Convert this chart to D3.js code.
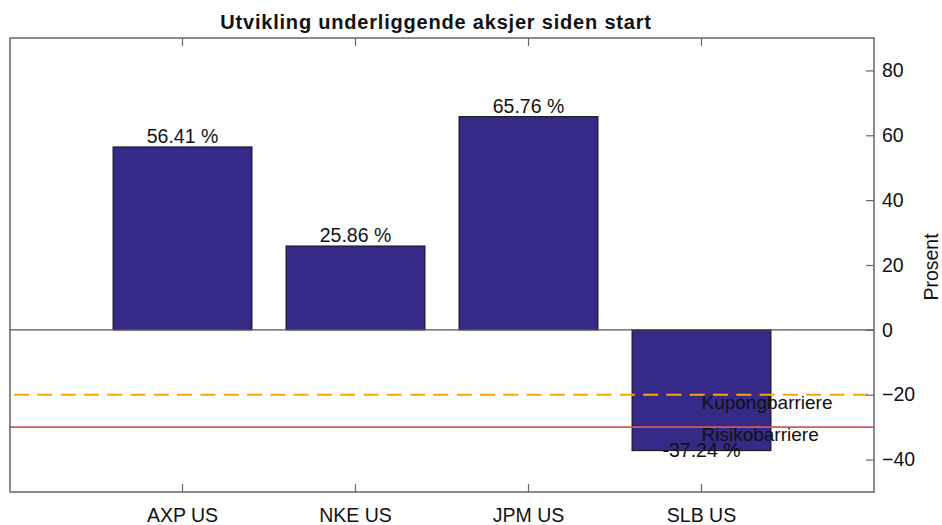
<!DOCTYPE html>
<html>
<head>
<meta charset="utf-8">
<script src="https://d3js.org/d3.v7.min.js"></script>
<style>
  body { margin: 0; background: #fff; }
  svg text { font-family: "Liberation Sans", Arial, sans-serif; fill: #111; }
</style>
</head>
<body>
<svg id="chart" width="942" height="525"></svg>
<script>
// data
const categories = ["AXP US", "NKE US", "JPM US", "SLB US"];
const values = [56.41, 25.86, 65.76, -37.24];
const yTicks = [-40, -20, 0, 20, 40, 60, 80];
const barriers = [
  { name: "Kupongbarriere", value: -20 },
  { name: "Risikobarriere", value: -30 }
];

const svg = d3.select("#chart");
const pLeft = 10, pRight = 874, pTop = 38, pBottom = 492;

const x = d3.scaleBand()
  .domain(categories)
  .range([96, 788])
  .paddingInner(0.197)
  .paddingOuter(0.0985);
const xc = d => x(d) + x.bandwidth() / 2;

const y = d3.scaleLinear().domain([-50, 90]).range([pBottom, pTop]);

// bars
svg.append("g").selectAll("rect")
  .data(categories)
  .enter().append("rect")
  .attr("x", d => x(d))
  .attr("width", x.bandwidth())
  .attr("y", (d, i) => y(Math.max(0, values[i])))
  .attr("height", (d, i) => Math.abs(y(values[i]) - y(0)))
  .attr("fill", "#352a87")
  .attr("stroke", "#111")
  .attr("stroke-width", 1);

// zero line
svg.append("line")
  .attr("x1", pLeft).attr("x2", pRight)
  .attr("y1", y(0)).attr("y2", y(0))
  .attr("stroke", "#555").attr("stroke-width", 1.3);

// barrier lines
svg.append("line")
  .attr("x1", pLeft).attr("x2", pRight)
  .attr("y1", y(-20)).attr("y2", y(-20))
  .attr("stroke", "#ffa500").attr("stroke-width", 2)
  .attr("stroke-dasharray", "15,8.3")
  .attr("stroke-dashoffset", -4);

svg.append("line")
  .attr("x1", pLeft).attr("x2", pRight)
  .attr("y1", y(-30)).attr("y2", y(-30))
  .attr("stroke", "#d05a5a").attr("stroke-width", 1.6);

// value labels
svg.append("g").selectAll("text")
  .data(categories)
  .enter().append("text")
  .attr("x", d => xc(d))
  .attr("y", (d, i) => values[i] >= 0 ? y(values[i]) - 4 : y(values[i]) + 6)
  .attr("text-anchor", "middle")
  .style("font-size", "19.5px")
  .text((d, i) => values[i].toFixed(2) + " %");

// barrier labels
svg.append("g").selectAll("text")
  .data(barriers)
  .enter().append("text")
  .attr("x", xc("SLB US"))
  .attr("y", d => y(d.value) + 14)
  .style("font-size", "19px")
  .text(d => d.name);

// frame
svg.append("rect")
  .attr("x", pLeft).attr("y", pTop)
  .attr("width", pRight - pLeft).attr("height", pBottom - pTop)
  .attr("fill", "none").attr("stroke", "#666").attr("stroke-width", 1.5);

// x ticks (inside, top and bottom)
const xTickG = svg.append("g");
categories.forEach(c => {
  xTickG.append("line").attr("x1", xc(c)).attr("x2", xc(c))
    .attr("y1", pBottom).attr("y2", pBottom - 8).attr("stroke", "#666").attr("stroke-width", 1.2);
  xTickG.append("line").attr("x1", xc(c)).attr("x2", xc(c))
    .attr("y1", pTop).attr("y2", pTop + 8).attr("stroke", "#666").attr("stroke-width", 1.2);
  xTickG.append("text").attr("x", xc(c)).attr("y", 522)
    .attr("text-anchor", "middle").style("font-size", "19.5px").text(c);
});

// y axis on the right
const yAxis = d3.axisRight(y).tickValues(yTicks).tickSize(-8).tickPadding(8);
const yg = svg.append("g").attr("transform", "translate(" + pRight + ",0)").call(yAxis);
yg.select(".domain").remove();
yg.selectAll(".tick line").attr("stroke", "#666").attr("stroke-width", 1.2);
yg.selectAll(".tick text").style("font-size", "19.5px").attr("fill", "#111")
  .style("font-family", "'Liberation Sans', Arial, sans-serif");

// y label
svg.append("text")
  .attr("transform", "translate(938,267) rotate(-90)")
  .attr("text-anchor", "middle")
  .style("font-size", "19.5px")
  .text("Prosent");

// title
svg.append("text")
  .attr("x", 436).attr("y", 29)
  .attr("text-anchor", "middle")
  .style("font-size", "20px").style("font-weight", "bold")
  .style("letter-spacing", "0.8px")
  .text("Utvikling underliggende aksjer siden start");
</script>
</body>
</html>
